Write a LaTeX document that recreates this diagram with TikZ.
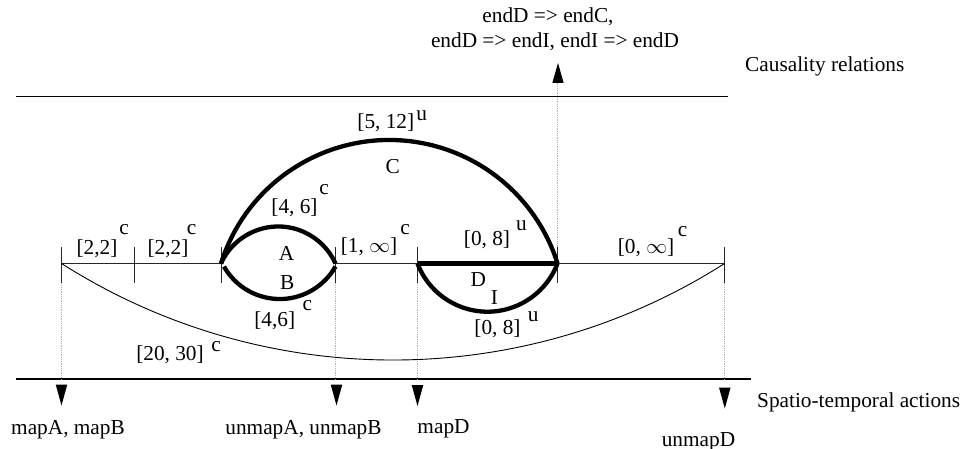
\documentclass[tikz,border=0pt]{standalone}
\usepackage{fontspec}
\setmainfont{Liberation Serif}
\usetikzlibrary{positioning}
\tikzset{
  axis/.style={line width=1.3pt, draw=black},
  span/.style={line width=1pt, draw=black!85},
  heavy/.style={line width=4.3pt, draw=black},
  tickmark/.style={line width=1pt, draw=black!85},
  guide/.style={densely dotted, draw=black!30, line width=0.8pt},
  lbl/.style={inner sep=0pt, font=\fontsize{21.3}{25}\selectfont},
  head/.style={fill=black}
}

\begin{document}
\begin{tikzpicture}[x=1pt,y=-1pt]
  \useasboundingbox (0,0) rectangle (970,449);

  % the two bands
  \coordinate (ca) at (16,96.5); \coordinate (cb) at (728,96.5);
  \coordinate (sa) at (16,379); \coordinate (sb) at (751,379);
  \draw[axis] (ca) -- (cb);
  \draw[axis] (sa) -- (sb);

  % time points
  \coordinate (t0) at (61.5,263.5);
  \coordinate (t1) at (134.5,263.5);
  \coordinate (t2) at (221,263.5);
  \coordinate (t3) at (335.5,263.5);
  \coordinate (t4) at (417.5,263.5);
  \coordinate (t5) at (557.5,263.5);
  \coordinate (t6) at (724.5,263.5);
  \coordinate (b0) at (224,266.5);

  % guides
  \coordinate (up) at (558,63);
  \draw[guide] (t5) -- (t5 |- 0,83);
  \foreach \p in {t0,t3,t4,t6}
    \draw[guide] ([yshift=-20pt]\p) -- (\p |- sa);

  % spans
  \draw[span] (t0) -- (t2);
  \draw[span] (t3) -- (t4);
  \draw[span] (t5) -- (t6);
  \foreach \p in {t0,t1,t2,t3,t4,t5,t6}
    \draw[tickmark] ([yshift=16pt]\p) -- ([yshift=-19.5pt]\p);

  \draw[heavy] (t4) -- (t5);
  \draw[heavy] (t2) arc[start angle=197.45, end angle=342.55, radius=176.4];
  \draw[heavy] (t2) arc[start angle=204.26, end angle=335.74, radius=62.8];
  \draw[heavy] (b0) arc[start angle=150.5, end angle=29.5, radius=64.06];
  \draw[heavy] (t4) arc[start angle=159.1, end angle=20.9, radius=74.93];
  \draw[line width=0.9pt] (t0) arc[start angle=122.47, end angle=57.53, radius=617.6];

  % interval labels
  \node[lbl] (l1) at (97,248.5) {[2,2]};
  \node[lbl] (s1) at (124,230) {c};
  \node[lbl] (l2) at (168,248.5) {[2,2]};
  \node[lbl] (s2) at (191.5,230) {c};
  \node[lbl] (la) at (294.5,208) {[4, 6]};
  \node[lbl] (sa1) at (324,190) {c};
  \node[lbl] (A) at (286.5,253.3) {A};
  \node[lbl] (B) at (287.3,282.3) {B};
  \node[lbl] (lb) at (274.7,321) {[4,6]};
  \node[lbl] (sb1) at (307.3,306) {c};
  \node[lbl] (lw) at (170,355) {[20, 30]};
  \node[lbl] (sw) at (216,346.7) {c};
  \node[lbl] (lg) at (369,246.7) {[1, $\infty$]};
  \node[lbl] (sg) at (405,230) {c};
  \node[lbl] (lc) at (385.8,123) {[5, 12]};
  \node[lbl] (sc) at (421.7,116) {u};
  \node[lbl] (C) at (392.7,166.7) {C};
  \node[lbl] (ld) at (487,239.5) {[0, 8]};
  \node[lbl] (sd) at (521.5,226) {u};
  \node[lbl] (D) at (478.3,280) {D};
  \node[lbl] (I) at (494.3,297.3) {I};
  \node[lbl] (li) at (497.5,329) {[0, 8]};
  \node[lbl] (si) at (533.3,316.7) {u};
  \node[lbl] (le) at (646,248) {[0, $\infty$]};
  \node[lbl] (se) at (682.7,231.7) {c};

  % causality relations
  \fill[head] (up) -- ++(-5.7,20) -- ++(11.4,0) -- cycle;
  \node[lbl, anchor=base] (r1) at (548,23) {endD => endC,};
  \node[lbl, anchor=base] (r2) at (555,48) {endD => endI, endI => endD};
  \node[lbl, anchor=base west] (causal) at (745,72) {Causality relations};

  % spatio-temporal actions
  \coordinate (m0) at (61.5,405.5);
  \coordinate (m1) at (336.5,405.5);
  \coordinate (m2) at (417.5,406);
  \coordinate (m3) at (724.8,408.5);
  \foreach \p in {m0,m1,m2,m3}
    \fill[head] (\p) -- ++(-5.8,-21) -- ++(11.6,0) -- cycle;
  \node[lbl, anchor=base] (a0) at (68,434) {mapA, mapB};
  \node[lbl, anchor=base] (a1) at (303.5,434) {unmapA, unmapB};
  \node[lbl, anchor=base] (a2) at (443.5,433) {mapD};
  \node[lbl, anchor=base] (a3) at (698.5,446) {unmapD};
  \node[lbl, anchor=base west] (spatial) at (757,407) {Spatio-temporal actions};
\end{tikzpicture}
\end{document}
